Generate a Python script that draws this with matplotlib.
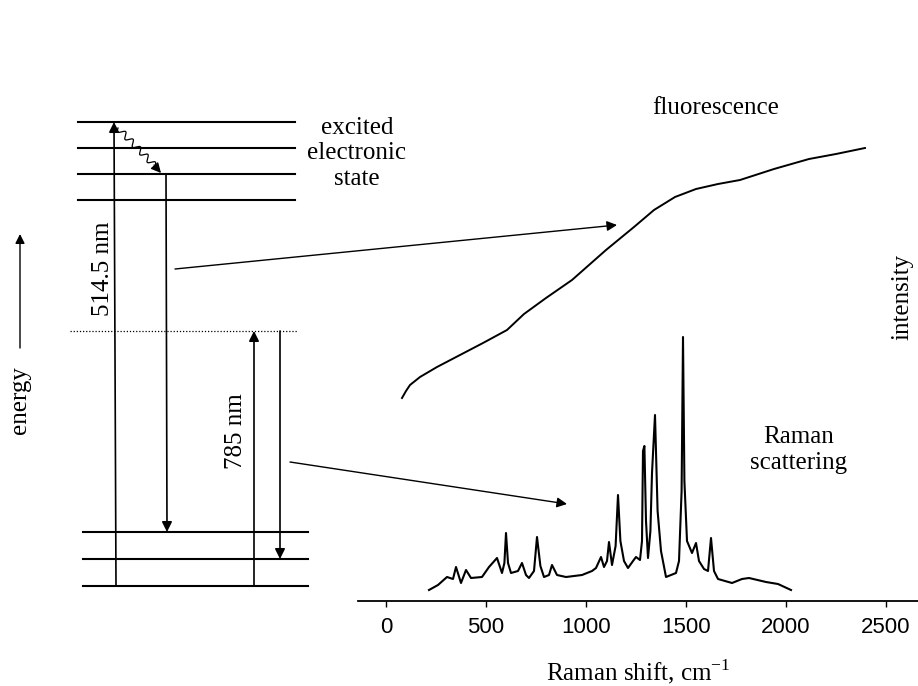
import numpy as np
import matplotlib.pyplot as plt

plt.rcParams['font.family'] = 'Liberation Serif'
plt.rcParams['mathtext.fontset'] = 'custom'
plt.rcParams['mathtext.rm'] = 'Liberation Serif'

# fluorescence background (Raman shift cm-1 / arb. intensity)
fluor_shift = [80, 100, 120, 170, 255, 370, 485, 605, 690, 800, 930, 1100,
               1240, 1340, 1445, 1550, 1660, 1770, 1940, 2115, 2250, 2395]
fluor_int = [203, 210, 216, 224, 234, 246, 258, 271, 287, 303, 321, 351,
             374, 391, 404, 412, 417, 421, 432, 442, 447, 453]

# Raman spectrum
raman_shift = [215, 260, 305, 335, 350, 375, 400, 425, 480, 515, 555, 580,
               592, 600, 610, 625, 660, 680, 700, 715, 740, 755, 772, 790,
               815, 830, 855, 900, 980, 1030, 1050, 1075, 1090, 1105, 1115,
               1130, 1148, 1160, 1172, 1190, 1210, 1235, 1250, 1270, 1280,
               1285, 1292, 1300, 1310, 1322, 1330, 1345, 1358, 1375, 1400,
               1450, 1465, 1478, 1485, 1492, 1505, 1530, 1550, 1565, 1590,
               1610, 1625, 1640, 1660, 1730, 1780, 1815, 1900, 1960, 2025]
raman_int = [11, 16, 24, 22, 34, 18, 31, 23, 24, 34, 43, 28,
             38, 68, 38, 28, 30, 38, 26, 23, 30, 64, 35, 24,
             26, 36, 26, 24, 26, 30, 33, 44, 34, 40, 59,
             36, 55, 106, 60, 40, 33, 40, 44, 41, 60,
             150, 155, 80, 43, 70, 128, 186, 90, 50, 24,
             28, 40, 110, 264, 120, 60, 48, 58, 40, 32,
             30, 63, 30, 22, 18, 22, 23, 19, 17, 11]

xticks = [0, 500, 1000, 1500, 2000, 2500]

fig = plt.figure(figsize=(9.18, 6.86), dpi=100)

# spectrum axes (pixel layout of the original)
W, H = 918, 686
ax = fig.add_axes([358 / W, (H - 601) / H, (918 - 358) / W, (601 - 100) / H])
ax.plot(fluor_shift, fluor_int, color='k', lw=1.4)
ax.plot(raman_shift, raman_int, color='k', lw=1.5)
ax.set_xlim(-140, 2660)
ax.set_ylim(0, 501)
for s in ['top', 'right', 'left']:
    ax.spines[s].set_visible(False)
ax.spines['bottom'].set_linewidth(1.3)
ax.set_yticks([])
ax.set_xticks(xticks)
ax.tick_params(axis='x', direction='out', length=4.5, width=1, pad=7)
for lbl in ax.get_xticklabels():
    lbl.set_fontfamily('Liberation Sans')
    lbl.set_fontsize(16)
ax.set_xlabel('Raman shift, cm$^{-1}$', fontsize=18, labelpad=14)

# overlay for the energy diagram, pixel coordinates
ov = fig.add_axes([0, 0, 1, 1])
ov.set_xlim(0, W)
ov.set_ylim(H, 0)
ov.axis('off')
ov.patch.set_alpha(0)

excited_levels = [122, 148, 174, 200]
ground_levels = [532, 559, 586]
virtual_level = 331

for y in excited_levels:
    ov.plot([78, 295], [y, y], color='k', lw=1.5)
for y in ground_levels:
    ov.plot([83, 308], [y, y], color='k', lw=1.5)
ov.plot([70, 297], [virtual_level, virtual_level], color='k', lw=0.9, ls=(0, (1, 1.5)))

def arrow(x0, y0, x1, y1, lw=1.2, ms=15):
    ov.annotate('', xy=(x1, y1), xytext=(x0, y0),
                arrowprops=dict(arrowstyle='-|>', color='k', lw=lw,
                                mutation_scale=ms, shrinkA=0, shrinkB=0))

# 514.5 nm excitation and fluorescence emission
arrow(116, 586, 114, 122)
arrow(166, 174, 167, 532)
# 785 nm excitation and Raman scattering
arrow(254, 586, 254, 331)
arrow(280, 331, 280, 559)

# vibrational relaxation (wavy)
t = np.linspace(0, 1, 200)
x0, y0, x1, y1 = 118, 128, 155, 166
dx, dy = x1 - x0, y1 - y0
L = np.hypot(dx, dy)
nx, ny = -dy / L, dx / L
wave = 3.0 * np.sin(2 * np.pi * 5 * t)
ov.plot(x0 + dx * t + nx * wave, y0 + dy * t + ny * wave, color='k', lw=0.9)
arrow(154, 165, 161, 173, lw=0.9)

# pointers to the spectra
arrow(175, 269, 617, 225, lw=1.0)
arrow(290, 462, 567, 504, lw=1.0)

# energy axis arrow
arrow(20, 348, 20, 234, lw=1.0, ms=14)

fs = 18
ov.text(357, 117, 'excited\nelectronic\nstate', ha='center', va='top',
        fontsize=fs, linespacing=1.2)
ov.text(103, 269, '514.5 nm', rotation=90, ha='center', va='center', fontsize=fs)
ov.text(236, 431, '785 nm', rotation=90, ha='center', va='center', fontsize=fs)
ov.text(20, 400, 'energy', rotation=90, ha='center', va='center', fontsize=fs)
ov.text(716, 108, 'fluorescence', ha='center', va='center', fontsize=fs)
ov.text(799, 450, 'Raman\nscattering', ha='center', va='center', fontsize=fs,
        linespacing=1.2)
ov.text(902, 297, 'intensity', rotation=90, ha='center', va='center', fontsize=fs)

fig.savefig('out.png', dpi=100)
